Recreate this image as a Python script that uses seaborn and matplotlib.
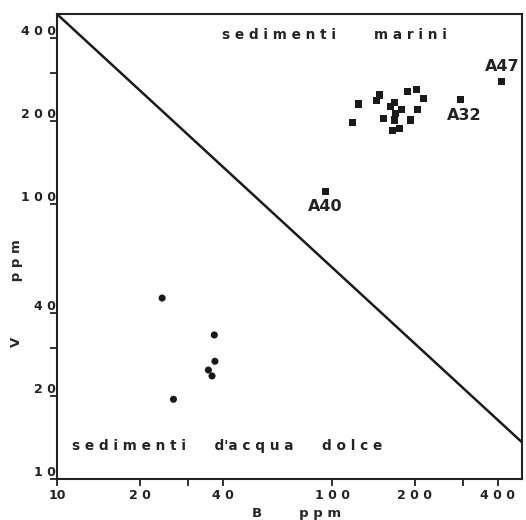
import numpy as np
import pandas as pd
import seaborn as sns
import matplotlib.pyplot as plt
from matplotlib.ticker import FixedLocator, NullLocator, FixedFormatter

# campioni marini (quadrati) - B ppm / V ppm
B_MARINI = [124.6, 118.9, 148.3, 144.5, 162.5, 168.5, 153.7, 179.3, 170.5, 168.5,
            166.3, 175.3, 188.5, 202.1, 214.8, 205.0, 192.2, 94.6, 292.0, 412.0]
V_MARINI = [231, 198, 249, 237, 227, 233, 205, 221, 214, 202,
            185, 188, 256, 261, 241, 221, 202, 111, 239, 278]

# campioni d'acqua dolce (cerchi)
B_DOLCE = [24.1, 37.3, 37.5, 35.5, 36.6, 26.5]
V_DOLCE = [45.5, 33.4, 26.8, 24.9, 23.7, 19.5]

# campioni con sigla
SIGLE = ["A40", "A32", "A47"]
B_SIGLE = [94.6, 292.0, 412.0]
V_SIGLE = [111, 239, 278]

# retta di separazione
B_RETTA = [10, 490]
V_RETTA = [490, 13.6]

TICKS = [10, 20, 30, 40, 100, 200, 300, 400]
TICK_LABELS = ["10", "2 0", "", "4 0", "1 0 0", "2 0 0", "", "4 0 0"]
YTICK_LABELS = ["1 0", "2 0", "", "4 0", "1 0 0", "2 0 0", "", "4 0 0"]

df = pd.DataFrame({
    "B": B_MARINI + B_DOLCE,
    "V": V_MARINI + V_DOLCE,
    "tipo": ["marini"] * len(B_MARINI) + ["dolce"] * len(B_DOLCE),
})

sns.set_style("ticks")
plt.rcParams.update({
    "font.family": ["DejaVu Sans"],
    "font.weight": "bold",
    "axes.linewidth": 1.5,
    "axes.edgecolor": "#222222",
    "xtick.color": "#222222",
    "ytick.color": "#222222",
    "text.color": "#222222",
})

fig = plt.figure(figsize=(5.26, 5.2), dpi=100)
ax = fig.add_axes([0.1084, 0.0788, 0.884, 0.894])

sns.scatterplot(data=df, x="B", y="V", style="tipo",
                markers={"marini": "s", "dolce": "o"},
                color="#1a1a1a", s=26, edgecolor="none", legend=False, ax=ax)
sns.lineplot(x=B_RETTA, y=V_RETTA, color="#1a1a1a", linewidth=1.8, ax=ax)

ax.set_xscale("log")
ax.set_yscale("log")
ax.set_xlim(10, 490)
ax.set_ylim(10, 490)

ax.xaxis.set_major_locator(FixedLocator(TICKS))
ax.xaxis.set_major_formatter(FixedFormatter(TICK_LABELS))
ax.xaxis.set_minor_locator(NullLocator())
ax.yaxis.set_major_locator(FixedLocator(TICKS))
ax.yaxis.set_major_formatter(FixedFormatter(YTICK_LABELS))
ax.yaxis.set_minor_locator(NullLocator())
ax.tick_params(axis="both", length=5, width=1.3, labelsize=9)
ax.tick_params(axis="x", pad=2)
ax.tick_params(axis="y", pad=-4)
for lab in ax.get_xticklabels():
    lab.set_fontweight("bold")
for lab in ax.get_yticklabels():
    lab.set_fontweight("bold")
    lab.set_verticalalignment("bottom")

# sigle dei campioni
offs = {"A40": (0, -11), "A32": (3, -11), "A47": (1, 11)}
for sig, b, v in zip(SIGLE, B_SIGLE, V_SIGLE):
    ax.annotate(sig, (b, v), xytext=offs[sig], textcoords="offset points",
                ha="center", va="center", fontsize=11.5, fontweight="bold")

ax.text(0.597, 0.955, "s e d i m e n t i        m a r i n i", transform=ax.transAxes,
        ha="center", va="center", fontsize=9.8, fontweight="bold")
ax.text(0.032, 0.07, "s e d i m e n t i      d'a c q u a      d o l c e",
        transform=ax.transAxes, ha="left", va="center", fontsize=9.8, fontweight="bold")

ax.set_xlabel("B        p p m", fontsize=9.5, fontweight="bold")
ax.set_ylabel("V            p p m", fontsize=9.5, fontweight="bold")
ax.xaxis.set_label_coords(0.516, -0.06)
ax.yaxis.set_label_coords(-0.073, 0.4)

fig.savefig("out.png", dpi=100)
